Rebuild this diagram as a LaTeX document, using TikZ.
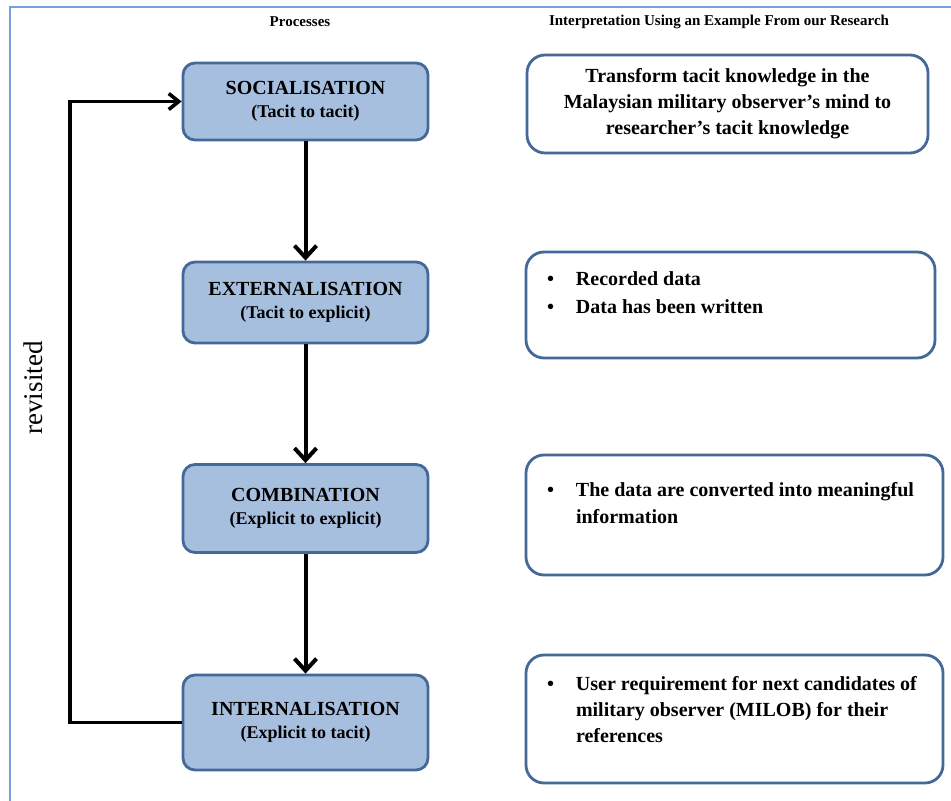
\documentclass[tikz,border=0pt]{standalone}
\usepackage{fontspec}
\setmainfont{Liberation Serif}
\usetikzlibrary{arrows.meta,positioning}
\definecolor{boxfill}{RGB}{167,191,222}
\definecolor{boxline}{RGB}{68,104,152}
\definecolor{framecol}{RGB}{120,160,220}
\newcommand{\bul}{\makebox[14.5pt][l]{\textbullet}}
\newcommand{\ind}{\hspace*{14.5pt}}
\begin{document}
\begin{tikzpicture}[x=.5pt, y=-.5pt, >={Straight Barb[length=6pt,width=11pt]}]
        \tikzset{
  process/.style={
    rectangle,
    rounded corners=6pt,
    draw=boxline,
    line width=1.4pt,
    fill=boxfill,
    minimum width=122.5pt,
    align=center,
    font=\fontsize{10}{11.5}\selectfont\bfseries
  },
  note/.style={
    rectangle,
    rounded corners=9pt,
    draw=boxline,
    line width=1.4pt,
    fill=white
  },
  notetext/.style={
    inner sep=0pt,
    align=left,
    font=\fontsize{10}{13.5}\selectfont\bfseries
  },
  flow/.style={->, line width=2pt},
  heading/.style={font=\fontsize{7.5}{9}\selectfont\bfseries}
}

\useasboundingbox (0,0) rectangle (951,801);
\draw [framecol, line width=1pt] (10,801) -- (10,7) -- (951,7);

\node [heading] (head-proc) at (300,22) {Processes};
\node [heading] (head-int) at (719,22) {Interpretation Using an Example From our Research};

% process boxes on the left
\foreach \n/\t/\s/\y/\h in {social/SOCIALISATION/Tacit to tacit/101.5/77,
    exter/EXTERNALISATION/Tacit to explicit/302.5/81,
    combi/COMBINATION/Explicit to explicit/508.5/88,
    inter/INTERNALISATION/Explicit to tacit/722.5/95}
  \node [process, minimum height=\h*.5pt] (\n) at (305.5,\y) {\t\\{\fontsize{9}{11.5}\selectfont(\s)}};

\foreach \a/\b in {social/exter, exter/combi, combi/inter}
  \draw [flow] (\a) -- (\b);

\coordinate (loopx) at (70,400);
\draw [line width=1.8pt, -{Straight Barb[length=5pt,width=8pt]}] (inter.west) -| (loopx) |- (social.west);
\node [rotate=90, font=\fontsize{13.5}{16}\selectfont] (revlabel) at (33,388) {revisited};

% example boxes on the right
\foreach \n/\x/\y/\w/\h in {note-1/727.5/104/401/98, note-2/730.5/305/409/106,
    note-3/734.5/515/417/120, note-4/734.5/719/417/128}
  \node [note, minimum width=\w*.5pt, minimum height=\h*.5pt] (\n) at (\x,\y) {};

\node [notetext, align=center, font=\fontsize{10}{13}\selectfont\bfseries] (text-1) at (note-1.center)
  {Transform tacit knowledge in the\\Malaysian military observer’s mind to\\researcher’s tacit knowledge};
\node [notetext, anchor=north west, font=\fontsize{10}{14}\selectfont\bfseries] (text-2) at ([shift={(22,21)}]note-2.north west)
  {\bul Recorded data\\\bul Data has been written};
\node [notetext, anchor=north west] (text-3) at ([shift={(22,28)}]note-3.north west)
  {\bul The data are converted into meaningful\\\ind information};
\node [notetext, anchor=north west, font=\fontsize{10}{13}\selectfont\bfseries] (text-4) at ([shift={(22,22)}]note-4.north west)
  {\bul User requirement for next candidates of\\\ind military observer (MILOB) for their\\\ind references};
      \end{tikzpicture}
\end{document}
